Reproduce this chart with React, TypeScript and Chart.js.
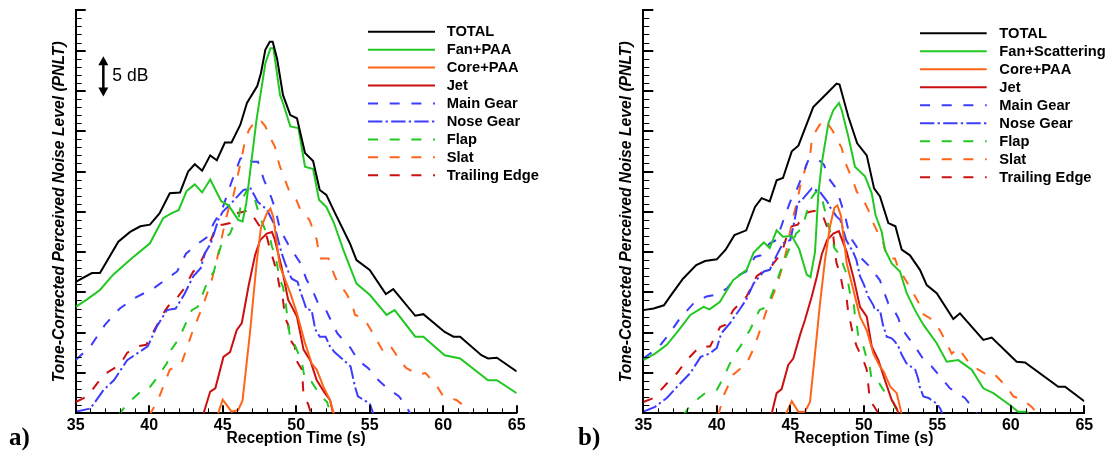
import React, { useEffect, useRef } from 'react';
import { Chart, registerables } from 'chart.js';

Chart.register(...registerables);

// ---------- axis / category data ----------
const X_MIN = 35;
const X_MAX = 65;
const X_MAJOR = 5;
const Y_MIN = 0;
const Y_MAX = 50; // relative dB, 5 dB per major tick
const Y_MAJOR = 5;
const X_TITLE = 'Reception Time (s)';
const Y_TITLE = 'Tone-Corrected Perceived Noise Level (PNLT)';

const LABELS_A = ['TOTAL', 'Fan+PAA', 'Core+PAA', 'Jet', 'Main Gear', 'Nose Gear', 'Flap', 'Slat', 'Trailing Edge'];
const LABELS_B = ['TOTAL', 'Fan+Scattering', 'Core+PAA', 'Jet', 'Main Gear', 'Nose Gear', 'Flap', 'Slat', 'Trailing Edge'];

type P = [number, number][]; // [reception time (s), level (dB)]

// ---------- panel a) ----------
const A_TOTAL: P = [[35,16.3],[36.1,17.4],[36.65,17.4],[37.1,18.8],[37.9,21.3],[38.7,22.5],[39.4,23.2],[40.05,23.4],[40.7,24.8],[41.4,27.3],[42.1,27.4],[42.65,30.0],[43.1,30.9],[43.6,30.1],[44.15,32.0],[44.6,31.4],[45.15,33.6],[45.6,33.6],[46.2,35.8],[46.65,38.5],[47.35,40.6],[47.6,42.2],[47.9,45.1],[48.2,46.1],[48.4,46.1],[48.7,44.0],[49.1,39.5],[49.6,37.0],[50.05,36.6],[50.6,32.3],[51.15,31.3],[51.6,27.7],[52.05,27.1],[52.65,24.8],[53.65,21.1],[54.1,19.0],[55.0,17.8],[56.1,14.8],[56.6,15.4],[58.1,12.1],[58.65,12.3],[60.1,10.1],[60.7,9.5],[61.15,9.5],[62.6,7.2],[63.05,6.8],[63.65,6.9],[65,5.2]];
const A_FAN: P = [[35,13.2],[35.75,14.1],[36.65,15.3],[37.55,17.2],[38.8,19.2],[40.05,21.1],[40.95,24.2],[41.5,24.8],[42.0,25.2],[42.55,27.6],[43.1,28.4],[43.6,27.4],[44.15,29.0],[44.9,26.3],[45.4,25.8],[46.05,24.0],[46.35,23.8],[46.6,26.0],[46.95,31.2],[47.3,36.4],[47.9,43.4],[48.25,45.3],[48.45,45.3],[48.9,39.5],[49.1,38.5],[49.6,35.6],[50.15,35.4],[50.6,30.6],[51.15,30.3],[51.55,26.5],[52.05,25.6],[52.55,23.7],[53.2,20.3],[54.1,16.1],[55.0,14.7],[56.15,12.2],[56.7,12.8],[58.1,9.5],[58.65,9.5],[60.1,7.2],[61.15,6.8],[63.05,4.1],[63.65,4.1],[65,2.5]];
const A_CORE: P = [[44.6,-0.5],[45.0,1.7],[45.6,0.2],[46.05,0.4],[46.35,1.6],[46.85,9.9],[47.3,18.5],[47.6,23.0],[48.0,24.8],[48.25,25.4],[48.45,24.3],[48.8,19.4],[48.9,18.2],[49.6,14.9],[50.05,12.4],[50.6,8.7],[51.05,6.2],[51.4,5.4],[51.85,3.3],[52.3,1.65],[52.6,-0.3]];
const A_JET: P = [[43.65,-0.3],[44.15,2.7],[44.5,3.1],[45.05,7.0],[45.5,7.6],[45.95,10.3],[46.3,11.2],[46.75,15.7],[47.2,19.6],[47.55,21.5],[48.0,22.3],[48.35,22.5],[48.55,21.5],[49.0,18.2],[49.45,14.1],[50.05,12.0],[50.5,7.9],[50.95,6.6],[51.4,4.1],[51.95,2.5],[52.3,1.65],[52.55,-0.3]];
const A_MAIN: P = [[35,6.6],[36,8.3],[37,11.0],[38,13.0],[39,14.3],[40.3,15.5],[41.2,16.7],[41.9,17.6],[42.5,19.8],[43.2,20.9],[43.9,21.8],[44.4,23.6],[45.0,25.5],[45.6,28.7],[46.2,31.6],[46.6,32.0],[47.0,31.2],[47.4,31.2],[47.8,29.0],[48.3,26.8],[48.6,25.2],[48.9,22.8],[49.5,20.8],[50.3,18.6],[50.7,16.6],[51.1,15.3],[51.5,13.6],[52.0,12.9],[52.4,11.4],[52.8,9.9],[53.2,9.1],[53.7,8.1],[54.2,6.6],[54.9,5.6],[55.6,4.1],[56.2,3.1],[57.0,2.1],[57.5,0.8],[57.9,-0.5]];
const A_NOSE: P = [[35,0.2],[36,0.6],[36.9,2.9],[37.6,4.1],[38.5,6.6],[39.9,8.3],[40.5,10.7],[41.2,12.8],[41.8,13.0],[42.4,14.8],[43.0,17.0],[43.5,18.0],[43.8,19.9],[44.2,21.1],[44.7,24.0],[45.0,25.0],[45.6,26.1],[46.4,27.7],[46.9,27.9],[47.4,26.2],[48.0,25.3],[48.5,23.5],[48.8,21.3],[49.0,19.9],[49.25,18.6],[49.5,17.4],[49.7,16.7],[50.1,16.3],[50.3,15.0],[50.5,14.0],[50.7,12.9],[51.05,12.8],[51.3,10.4],[51.6,9.5],[52.0,9.5],[52.3,8.3],[52.6,7.6],[53.1,6.8],[53.7,5.8],[54.0,3.3],[54.2,2.1],[55.0,1.2],[55.3,-0.3]];
const A_FLAP: P = [[37.9,-0.3],[38.5,1.2],[39.3,2.5],[39.9,2.9],[40.6,4.6],[41.2,6.2],[41.5,7.9],[42.0,9.2],[42.9,12.8],[43.3,13.2],[44.0,16.5],[44.4,17.6],[44.8,20.3],[45.0,21.5],[45.5,22.3],[45.7,23.2],[46.1,24.4],[46.3,26.5],[46.7,27.8],[47.1,27.1],[47.5,24.5],[47.9,22.7],[48.2,21.9],[48.35,20.7],[48.6,19.4],[48.9,16.5],[49.1,15.7],[49.25,14.1],[49.4,12.0],[49.6,9.1],[49.9,8.5],[50.15,7.4],[50.4,6.2],[50.6,4.1],[51.05,3.9],[51.4,2.9],[51.7,2.1],[52.1,1.4],[52.3,0.2],[52.5,-0.5]];
const A_SLAT: P = [[40.0,-0.3],[40.6,1.65],[41.4,5.4],[42.2,6.2],[42.9,9.9],[43.7,13.6],[44.25,16.5],[44.6,19.0],[44.9,21.5],[45.2,24.0],[45.5,26.0],[45.7,26.8],[46.06,29.8],[46.3,31.8],[46.55,34.1],[46.8,35.2],[47.2,36.2],[47.35,36.5],[47.6,36.3],[47.9,35.6],[48.2,34.3],[48.55,33.1],[48.7,31.8],[48.9,30.6],[49.25,28.9],[49.5,27.7],[50.0,26.5],[50.3,25.2],[50.9,24.0],[51.4,21.5],[51.6,19.2],[52.2,19.2],[52.4,18.0],[52.75,16.5],[53.4,14.9],[53.8,13.6],[54.0,12.2],[54.6,11.8],[55.1,10.3],[55.6,8.7],[56.0,7.4],[56.5,8.1],[57.2,6.2],[57.5,5.6],[58.3,4.8],[58.8,5.0],[59.6,3.3],[60.0,2.1],[60.9,1.65],[61.5,0.8],[62.0,-0.5]];
const A_TE: P = [[35,1.4],[35.8,2.1],[36.5,3.8],[37.1,5.0],[38.0,6.0],[38.5,7.5],[39.2,8.3],[39.8,8.5],[40.4,10.5],[41.1,12.8],[41.5,13.8],[41.8,14.1],[42.3,15.3],[43.0,17.6],[43.3,18.0],[43.9,20.3],[44.2,21.5],[44.6,23.4],[45.0,23.4],[45.5,23.6],[45.95,24.8],[46.4,25.0],[46.8,25.2],[47.3,23.8],[47.6,23.0],[48.0,21.9],[48.2,20.5],[48.45,19.0],[48.7,17.4],[48.9,15.3],[49.1,14.1],[49.25,11.8],[49.45,11.0],[49.6,9.1],[49.9,8.3],[50.0,6.6],[50.4,5.4],[50.5,2.1],[50.8,1.2],[51.1,-0.5]];

// ---------- panel b) ----------
const B_TOTAL: P = [[35,12.8],[35.7,13.0],[36.4,13.4],[36.9,14.7],[37.7,16.7],[38.6,18.4],[39.2,18.9],[40.0,19.1],[40.6,20.3],[41.2,22.1],[42.0,22.7],[42.6,25.6],[43.05,26.7],[43.6,26.3],[44.07,28.9],[44.5,29.2],[45.1,32.5],[45.55,33.2],[46.56,38.0],[47.5,39.7],[48.15,40.9],[48.35,40.8],[48.95,36.8],[49.55,33.5],[50.2,32.0],[50.7,27.9],[51.1,26.9],[51.67,23.6],[52.15,23.2],[52.58,20.3],[53.14,19.6],[53.82,17.8],[54.28,15.9],[54.96,14.9],[56.09,11.7],[56.54,12.4],[58.13,9.1],[58.7,9.4],[60.4,6.4],[60.97,6.3],[63.23,3.3],[63.69,3.3],[65,1.5]];
const B_FAN: P = [[35,6.6],[35.8,7.4],[36.6,8.5],[37.4,10.3],[38.2,12.2],[39.1,13.2],[39.5,12.9],[40.2,13.8],[41.1,16.5],[41.6,17.2],[42.03,17.8],[42.5,19.9],[42.7,20.3],[43.2,21.2],[43.6,20.5],[44.07,22.7],[44.5,21.9],[45.1,22.0],[45.6,20.4],[46.12,17.2],[46.37,16.9],[46.68,20.0],[46.9,27.0],[47.14,31.0],[47.59,36.0],[47.93,37.6],[48.31,38.5],[48.5,37.6],[48.95,34.3],[49.4,30.6],[50.08,29.4],[50.54,27.3],[50.8,24.6],[51.22,22.5],[51.44,20.3],[51.9,18.6],[52.46,17.6],[52.92,14.9],[53.48,12.8],[54.05,11.0],[54.96,8.7],[55.64,6.4],[56.43,6.6],[57.34,5.4],[58.13,3.1],[58.81,2.5],[59.95,1.0],[60.5,0.2],[61.08,0.2],[61.4,-0.5]];
const B_CORE: P = [[44.6,-0.5],[45.1,1.5],[45.55,0.2],[46.0,0.2],[46.34,1.4],[46.68,7.4],[47.02,13.6],[47.36,19.0],[47.7,23.2],[48.0,25.5],[48.2,25.8],[48.45,24.5],[48.84,18.6],[49.29,15.3],[49.74,12.0],[50.2,10.3],[50.65,7.4],[51.1,5.8],[51.35,5.2],[51.8,3.3],[52.24,2.5],[52.6,-0.3]];
const B_JET: P = [[43.7,-0.3],[44.07,2.5],[44.41,3.0],[44.86,6.0],[45.2,6.8],[45.66,9.7],[46.0,11.6],[46.46,14.5],[46.8,16.9],[47.14,19.7],[47.5,21.5],[47.93,22.3],[48.3,22.6],[48.84,20.0],[49.29,16.9],[49.74,13.2],[50.2,12.0],[50.54,8.3],[50.99,6.6],[51.44,4.1],[51.9,1.65],[52.24,0.6],[52.4,-0.3]];
const B_MAIN: P = [[35,6.8],[36.0,8.1],[36.7,9.7],[37.5,11.8],[38.4,13.6],[39.3,14.5],[40.0,14.7],[40.7,15.5],[41.35,17.0],[42.0,17.6],[42.6,19.4],[43.0,19.6],[43.6,21.1],[44.07,21.5],[44.5,23.8],[45.0,26.3],[45.4,27.6],[45.8,29.4],[46.2,31.3],[46.6,31.7],[47.1,31.2],[47.3,30.8],[47.6,29.2],[48.04,28.1],[48.38,26.5],[48.72,24.5],[49.06,21.9],[49.5,20.7],[49.74,19.4],[50.4,18.2],[51.1,16.5],[51.33,15.3],[51.67,13.6],[52.0,13.0],[52.35,11.8],[52.58,10.5],[53.14,9.1],[53.48,8.3],[54.16,6.4],[54.62,5.8],[55.41,4.1],[55.86,3.1],[56.88,1.9],[57.45,0.6],[57.8,-0.3]];
const B_NOSE: P = [[35,0.2],[35.8,0.8],[36.6,1.9],[37.3,3.3],[38.2,5.0],[38.9,7.0],[39.5,7.4],[40.0,8.1],[40.3,9.9],[40.9,11.2],[41.6,13.0],[42.0,14.1],[42.5,16.1],[43.2,17.6],[43.6,17.8],[44.07,19.6],[44.5,21.1],[45.0,21.5],[45.3,24.0],[45.5,26.1],[45.8,26.5],[46.46,27.9],[47.0,27.5],[47.5,26.3],[47.7,25.6],[48.15,24.4],[48.4,24.0],[48.8,21.5],[49.3,19.9],[49.5,19.0],[49.74,17.0],[50.0,16.0],[50.3,14.5],[50.65,13.4],[50.76,12.8],[51.1,12.8],[51.3,11.0],[51.56,9.5],[51.9,9.3],[52.12,8.9],[52.35,8.3],[52.6,7.2],[52.9,6.2],[53.5,5.4],[53.7,4.3],[53.8,3.3],[54.05,2.1],[54.4,1.9],[54.96,1.2],[55.2,0.6],[55.4,-0.3]];
const B_FLAP: P = [[37.7,-0.3],[38.2,1.0],[39.2,2.5],[40.0,2.9],[40.5,4.6],[41.1,7.0],[41.6,8.3],[42.3,10.5],[42.9,12.8],[43.4,13.2],[43.8,15.0],[44.2,17.0],[44.6,19.0],[45.1,21.1],[45.4,22.3],[45.8,23.0],[46.1,24.8],[46.4,26.6],[46.75,27.5],[47.1,27.1],[47.5,24.0],[48.0,20.5],[48.4,19.6],[48.6,18.4],[48.84,17.2],[49.06,14.9],[49.3,14.1],[49.4,12.0],[49.52,11.0],[49.63,9.5],[49.97,8.3],[50.2,6.8],[50.42,5.6],[50.54,4.1],[51.0,3.9],[51.33,2.9],[51.67,2.1],[52.0,1.4],[52.24,0.2],[52.4,-0.3]];
const B_SLAT: P = [[40.1,-0.3],[40.44,2.1],[41.12,4.8],[42.03,6.2],[42.5,8.0],[42.94,10.3],[43.39,12.8],[43.9,15.0],[44.41,17.8],[44.75,20.3],[45.0,22.7],[45.2,24.4],[45.5,26.5],[45.66,28.1],[45.9,29.6],[46.12,31.0],[46.34,31.8],[46.46,33.9],[46.7,34.9],[47.0,35.8],[47.35,36.4],[47.6,35.8],[47.9,35.0],[48.15,34.1],[48.5,32.9],[48.72,31.2],[48.95,30.2],[49.29,28.7],[49.52,27.5],[49.97,26.5],[50.31,25.2],[50.65,23.6],[50.99,22.3],[51.22,21.9],[51.44,20.3],[51.67,19.2],[52.12,19.2],[52.35,18.0],[52.69,17.0],[53.37,14.9],[53.71,13.8],[53.94,12.4],[54.5,11.8],[55.18,10.3],[55.52,9.1],[55.98,7.4],[56.43,8.1],[57.11,6.4],[57.45,5.8],[58.36,4.8],[58.81,5.0],[59.72,3.3],[60.17,2.1],[60.85,1.65],[61.42,0.8],[61.9,-0.3]];
const B_TE: P = [[35,1.4],[35.7,1.9],[36.6,3.7],[37.3,5.0],[37.95,6.6],[38.86,8.3],[39.54,8.3],[40.22,10.7],[40.6,11.0],[41.12,12.8],[42.03,14.5],[42.71,17.0],[43.16,17.6],[43.6,18.0],[44.41,19.9],[44.75,21.9],[45.1,23.2],[45.5,23.4],[46.0,24.8],[46.34,25.0],[46.9,25.2],[47.24,24.4],[47.59,22.7],[47.93,21.9],[48.04,19.9],[48.15,18.6],[48.38,17.4],[48.6,15.3],[48.84,14.1],[48.95,12.4],[49.06,11.6],[49.29,9.5],[49.52,8.3],[49.97,6.6],[50.2,5.4],[50.42,1.5],[50.65,1.0],[50.99,0.0],[51.1,-0.3]];

const SERIES_A = [A_TOTAL, A_FAN, A_CORE, A_JET, A_MAIN, A_NOSE, A_FLAP, A_SLAT, A_TE];
const SERIES_B = [B_TOTAL, B_FAN, B_CORE, B_JET, B_MAIN, B_NOSE, B_FLAP, B_SLAT, B_TE];

// scale-bar annotation (panel a): 5 dB
const SCALE_BAR_X = 36.88;
const SCALE_BAR_TOP = 44.3;
const SCALE_BAR_DB = 5;
const SCALE_BAR_TEXT = '5 dB';

// ---------- styles ----------
const FONT = '"Liberation Sans", Arial, Helvetica, sans-serif';
const COLORS = ['#000000', '#22c822', '#ff6418', '#cc1010', '#3c3cff', '#3c3cff', '#22c822', '#ff6418', '#cc1010'];
const DASHED = [10, 11.7];
const DASHDOT = [14.3, 3.3, 2.3, 3.3];
const DASHES: number[][] = [[], [], [], [], DASHED, DASHDOT, DASHED, DASHED, DASHED];
const WIDTHS = [2, 2, 2, 2, 2, 2, 2, 2, 2];

const H = 451;

type PanelCfg = {
  width: number;
  plotLeft: number;
  plotRight: number;
  plotTop: number;
  plotBottom: number;
  yTitleX: number;
  legendX1: number;
  legendX2: number;
  legendTextX: number;
  legendY0: number;
  legendDy: number;
  scaleBar: boolean;
};

const decorPlugin = (cfg: PanelCfg) => ({
  id: 'decor',
  afterDraw(chart: any) {
    const ctx = chart.ctx as CanvasRenderingContext2D;
    const xs = chart.scales.x;
    const ys = chart.scales.y;
    const { left, bottom } = chart.chartArea;
    ctx.save();
    // inside tick marks on x axis
    ctx.strokeStyle = '#000';
    for (let v = X_MIN; v <= X_MAX; v += 1) {
      const major = (v - X_MIN) % X_MAJOR === 0;
      const px = Math.round(xs.getPixelForValue(v)) + (major ? 0 : 0.5);
      ctx.lineWidth = major ? 2 : 1;
      ctx.beginPath();
      ctx.moveTo(px, bottom);
      ctx.lineTo(px, bottom - (major ? 8 : 5));
      ctx.stroke();
    }
    // inside tick marks on y axis
    for (let v = Y_MIN; v <= Y_MAX; v += 1) {
      const major = (v - Y_MIN) % Y_MAJOR === 0;
      const py = Math.round(ys.getPixelForValue(v)) + (major ? 0 : 0.5);
      ctx.lineWidth = major ? 2 : 1;
      ctx.beginPath();
      ctx.moveTo(left, py);
      ctx.lineTo(left + (major ? 10 : 6), py);
      ctx.stroke();
    }
    // legend
    ctx.font = `bold 14.7px ${FONT}`;
    ctx.textBaseline = 'middle';
    ctx.textAlign = 'left';
    chart.data.datasets.forEach((ds: any, i: number) => {
      const y = cfg.legendY0 + cfg.legendDy * i;
      ctx.strokeStyle = ds.borderColor;
      ctx.lineWidth = ds.borderWidth;
      ctx.setLineDash(ds.borderDash || []);
      ctx.beginPath();
      ctx.moveTo(cfg.legendX1, y);
      ctx.lineTo(cfg.legendX2, y);
      ctx.stroke();
      ctx.setLineDash([]);
      ctx.fillStyle = '#000';
      ctx.fillText(ds.label, cfg.legendTextX, y + 0.5);
    });
    // 5 dB scale bar
    if (cfg.scaleBar) {
      const ax = xs.getPixelForValue(SCALE_BAR_X);
      const y1 = ys.getPixelForValue(SCALE_BAR_TOP);
      const y2 = ys.getPixelForValue(SCALE_BAR_TOP - SCALE_BAR_DB);
      ctx.strokeStyle = '#000';
      ctx.fillStyle = '#000';
      ctx.lineWidth = 2.5;
      ctx.beginPath();
      ctx.moveTo(ax, y1 + 6);
      ctx.lineTo(ax, y2 - 6);
      ctx.stroke();
      ctx.beginPath();
      ctx.moveTo(ax, y1);
      ctx.lineTo(ax - 5, y1 + 9);
      ctx.lineTo(ax + 5, y1 + 9);
      ctx.closePath();
      ctx.fill();
      ctx.beginPath();
      ctx.moveTo(ax, y2);
      ctx.lineTo(ax - 5, y2 - 9);
      ctx.lineTo(ax + 5, y2 - 9);
      ctx.closePath();
      ctx.fill();
      ctx.font = `17.5px ${FONT}`;
      ctx.textBaseline = 'middle';
      ctx.fillText(SCALE_BAR_TEXT, ax + 9, (y1 + y2) / 2);
    }
    ctx.restore();
  },
});

function Panel({ cfg, series, labels, style }: { cfg: PanelCfg; series: P[]; labels: string[]; style: React.CSSProperties }) {
  const ref = useRef<HTMLCanvasElement | null>(null);
  useEffect(() => {
    if (!ref.current) return;
    const datasets = series.map((pts, i) => ({
      label: labels[i],
      data: pts.map(([x, y]) => ({ x, y })),
      borderColor: COLORS[i],
      backgroundColor: COLORS[i],
      borderWidth: WIDTHS[i],
      borderDash: DASHES[i],
      pointRadius: 0,
      tension: 0,
      fill: false,
    }));
    const chart = new Chart(ref.current, {
      type: 'line',
      data: { datasets },
      options: {
        animation: false,
        responsive: false,
        events: [],
        layout: { padding: { left: 0, top: cfg.plotTop, right: cfg.width - cfg.plotRight, bottom: 0 } },
        plugins: { legend: { display: false }, tooltip: { enabled: false } },
        scales: {
          x: {
            type: 'linear',
            min: X_MIN,
            max: X_MAX,
            afterFit: (s: any) => { s.height = H - cfg.plotBottom; },
            grid: { display: false, drawTicks: false },
            border: { display: true, color: '#000', width: 2 },
            ticks: { stepSize: X_MAJOR, color: '#000', padding: 3, maxRotation: 0, autoSkip: false, font: { family: FONT, size: 16, weight: 'bold' } },
            title: { display: true, text: X_TITLE, color: '#000', font: { family: FONT, size: 15.6, weight: 'bold' }, padding: { top: 0, bottom: 3 } },
          },
          y: {
            type: 'linear',
            min: Y_MIN,
            max: Y_MAX,
            afterFit: (s: any) => { s.width = cfg.plotLeft; },
            grid: { display: false, drawTicks: false },
            border: { display: true, color: '#000', width: 2 },
            ticks: { display: false, stepSize: Y_MAJOR },
            title: { display: true, text: Y_TITLE, color: '#000', font: { family: FONT, size: 15.7, weight: 'bold', style: 'italic' }, padding: { top: cfg.yTitleX - 9.4, bottom: 0 } },
          },
        },
      } as any,
      plugins: [decorPlugin(cfg)],
    });
    return () => chart.destroy();
  }, []);
  return <canvas ref={ref} width={cfg.width} height={H} style={{ position: 'absolute', display: 'block', ...style }} />;
}

const CFG_A: PanelCfg = { width: 555, plotLeft: 75.7, plotRight: 516.7, plotTop: 10.3, plotBottom: 413.3, yTitleX: 60, legendX1: 368, legendX2: 435, legendTextX: 446.7, legendY0: 31.7, legendDy: 17.95, scaleBar: true };
const CFG_B: PanelCfg = { width: 556, plotLeft: 88.3, plotRight: 529.3, plotTop: 10.3, plotBottom: 413.3, yTitleX: 72, legendX1: 365, legendX2: 431.7, legendTextX: 444.3, legendY0: 33.3, legendDy: 18, scaleBar: false };

const tagStyle: React.CSSProperties = { position: 'absolute', fontFamily: '"Liberation Serif", "Times New Roman", serif', fontWeight: 'bold', fontSize: 25, lineHeight: '25px', color: '#000' };

export default function App() {
  return (
    <div style={{ position: 'absolute', left: 0, top: 0, width: 1111, height: H, background: '#fff', overflow: 'hidden' }}>
      <Panel cfg={CFG_A} series={SERIES_A} labels={LABELS_A} style={{ left: 0, top: 0 }} />
      <Panel cfg={CFG_B} series={SERIES_B} labels={LABELS_B} style={{ left: 555, top: 0 }} />
      <div style={{ ...tagStyle, left: 9, top: 424 }}>a)</div>
      <div style={{ ...tagStyle, left: 578, top: 424 }}>b)</div>
    </div>
  );
}
